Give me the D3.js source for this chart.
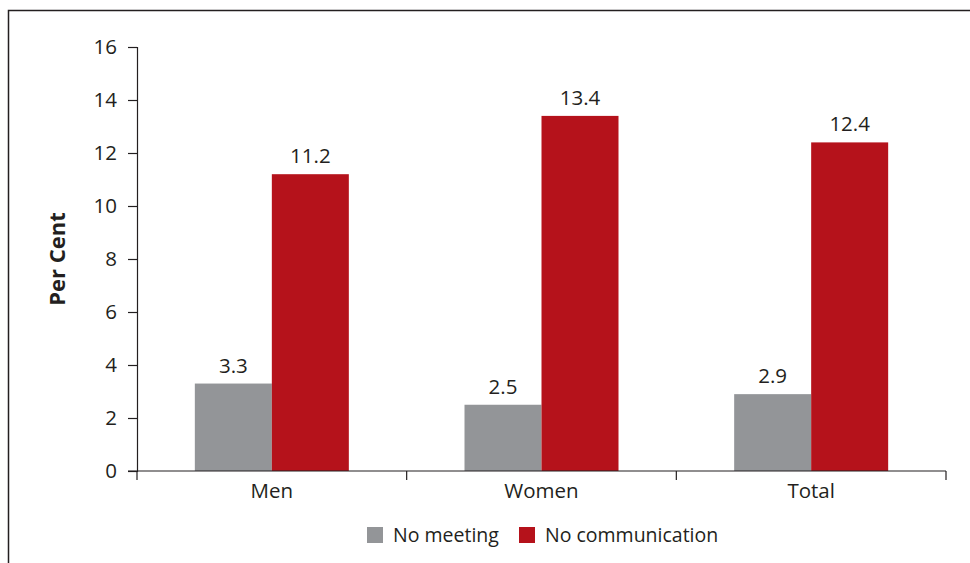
<!DOCTYPE html>
<html>
<head>
<meta charset="utf-8">
<script src="https://cdn.jsdelivr.net/npm/d3@7"></script>
<style>
  body { margin: 0; background: #fff; }
  text { font-family: "Open Sans", "Noto Sans", sans-serif; fill: #231f20; }
</style>
</head>
<body>
<svg id="chart" width="970" height="563"></svg>
<script>
const categories = ["Men", "Women", "Total"];
const seriesNames = ["No meeting", "No communication"];
const noMeeting = [3.3, 2.5, 2.9];
const noCommunication = [11.2, 13.4, 12.4];
const yTicks = [0, 2, 4, 6, 8, 10, 12, 14, 16];
const colors = ["#939598", "#b5121b"];

const svg = d3.select("#chart");

// outer frame (top + left edges, the rest is cropped off)
svg.append("path")
    .attr("d", "M8.5,563 V10.5 H970")
    .attr("fill", "none")
    .attr("stroke", "#231f20")
    .attr("stroke-width", 1.5);

const plotL = 137, plotR = 946, plotT = 47, plotB = 471;

const x = d3.scaleBand().domain(categories).range([plotL, plotR]);
const x1 = d3.scaleBand().domain(seriesNames).range([0, 154]);
const y = d3.scaleLinear().domain([0, 16]).range([plotB, plotT]);

const data = categories.map((c, i) => ({
    cat: c,
    vals: [noMeeting[i], noCommunication[i]]
}));

// bars
const groups = svg.selectAll("g.grp").data(data).enter()
    .append("g")
    .attr("class", "grp")
    .attr("transform", d => `translate(${x(d.cat) + (x.bandwidth() - 154) / 2},0)`);

groups.selectAll("rect")
    .data(d => d.vals.map((v, j) => ({ v, s: seriesNames[j], j })))
    .enter().append("rect")
    .attr("x", d => x1(d.s))
    .attr("width", x1.bandwidth())
    .attr("y", d => y(d.v))
    .attr("height", d => y(0) - y(d.v))
    .attr("fill", d => colors[d.j]);

groups.selectAll("text.val")
    .data(d => d.vals.map((v, j) => ({ v, s: seriesNames[j] })))
    .enter().append("text")
    .attr("class", "val")
    .attr("x", d => x1(d.s) + x1.bandwidth() / 2)
    .attr("y", d => y(d.v) - 11)
    .attr("text-anchor", "middle")
    .style("font-size", "20.5px")
    .text(d => d.v.toFixed(1));

// y axis
const yAxis = svg.append("g")
    .attr("transform", `translate(${plotL},0)`)
    .call(d3.axisLeft(y).tickValues(yTicks).tickSize(9).tickPadding(11).tickSizeOuter(9));
yAxis.selectAll("text").style("font-size", "20.5px").attr("fill", "#231f20");
yAxis.selectAll("line, path").attr("stroke", "#231f20").attr("stroke-width", 1.2);

// x axis with ticks on band boundaries
const xAxisG = svg.append("g").attr("transform", `translate(0,${plotB})`);
xAxisG.append("line")
    .attr("x1", plotL - 9).attr("x2", plotR)
    .attr("stroke", "#231f20").attr("stroke-width", 1.2);
const bounds = categories.map(c => x(c)).concat([plotR]);
xAxisG.selectAll("line.tk").data(bounds).enter()
    .append("line").attr("class", "tk")
    .attr("x1", d => d).attr("x2", d => d)
    .attr("y1", 0).attr("y2", 9)
    .attr("stroke", "#231f20").attr("stroke-width", 1.2);
xAxisG.selectAll("text").data(categories).enter()
    .append("text")
    .attr("x", d => x(d) + x.bandwidth() / 2)
    .attr("y", 27)
    .attr("text-anchor", "middle")
    .style("font-size", "20.5px")
    .text(d => d);

// y label
svg.append("text")
    .attr("transform", `translate(65,${(plotT + plotB) / 2}) rotate(-90)`)
    .attr("text-anchor", "middle")
    .style("font-size", "22px")
    .style("font-weight", "bold")
    .text("Per Cent");

// legend
const legendX = [367, 519];
const legend = svg.selectAll("g.leg").data(seriesNames).enter()
    .append("g").attr("class", "leg")
    .attr("transform", (d, i) => `translate(${legendX[i]},527)`);
legend.append("rect").attr("width", 16).attr("height", 16)
    .attr("fill", (d, i) => colors[i]);
legend.append("text").attr("x", 26).attr("y", 15)
    .style("font-size", "19.5px")
    .text(d => d);
</script>
</body>
</html>
